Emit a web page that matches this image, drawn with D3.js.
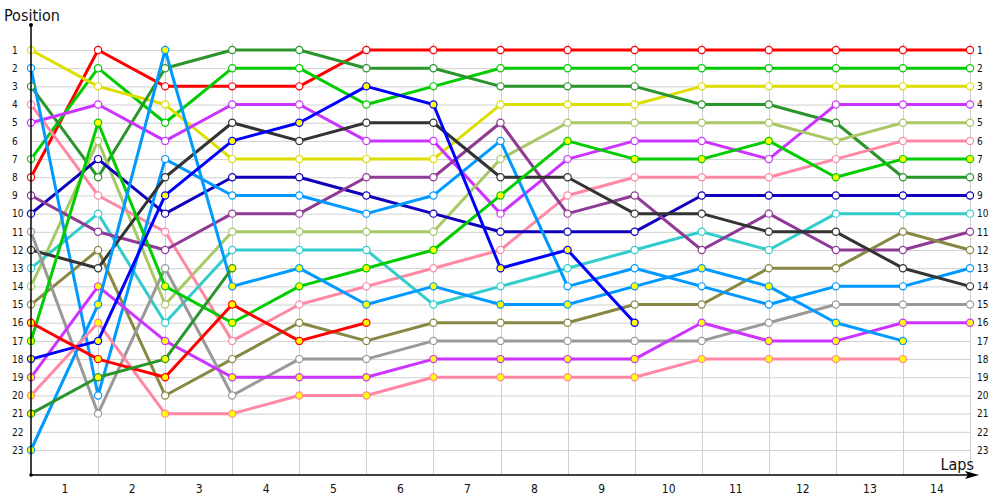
<!DOCTYPE html>
<html>
<head>
<meta charset="utf-8">
<script src="https://cdn.jsdelivr.net/npm/d3@7"></script>
<style>
  body { margin: 0; background: #fff; }
  svg text { font-family: Tahoma, "DejaVu Sans Condensed", "DejaVu Sans", sans-serif; fill: #111; }
</style>
</head>
<body>
<svg id="chart" width="1000" height="500"></svg>
<script>
// laps along x, tick labels sit between the lap lines
var laps = [0, 1, 2, 3, 4, 5, 6, 7, 8, 9, 10, 11, 12, 13, 14];
var lapLabels = ["1", "2", "3", "4", "5", "6", "7", "8", "9", "10", "11", "12", "13", "14"];
var positions = [1, 2, 3, 4, 5, 6, 7, 8, 9, 10, 11, 12, 13, 14, 15, 16, 17, 18, 19, 20, 21, 22, 23];

// position of each driver per lap (shorter array = retired)
var redA       = [8, 1, 3, 3, 3, 1, 1, 1, 1, 1, 1, 1, 1, 1, 1];
var greenA     = [7, 2, 5, 2, 2, 4, 3, 2, 2, 2, 2, 2, 2, 2, 2];
var yellowA    = [1, 3, 4, 7, 7, 7, 7, 4, 4, 4, 3, 3, 3, 3, 3];
var darkGreenA = [3, 8, 2, 1, 1, 2, 2, 3, 3, 3, 4, 4, 5, 8, 8];
var violetA    = [5, 4, 6, 4, 4, 6, 6, 10, 7, 6, 6, 7, 4, 4, 4];
var lightOlive = [14, 6, 15, 11, 11, 11, 11, 7, 5, 5, 5, 5, 6, 5, 5];
var pinkA      = [4, 9, 11, 17, 15, 14, 13, 12, 9, 8, 8, 8, 7, 6, 6];
var darkBlue   = [10, 7, 10, 8, 8, 9, 10, 11, 11, 11, 9, 9, 9, 9, 9];
var cyan       = [13, 10, 16, 12, 12, 12, 15, 14, 13, 12, 11, 12, 10, 10, 10];
var purple     = [9, 11, 12, 10, 10, 8, 8, 5, 10, 9, 12, 10, 12, 12, 11];
var olive      = [15, 12, 20, 18, 16, 17, 16, 16, 16, 15, 15, 13, 13, 11, 12];
var skyA       = [2, 20, 7, 9, 9, 10, 9, 6, 14, 13, 14, 15, 14, 14, 13];
var darkGray   = [12, 13, 8, 5, 6, 5, 5, 8, 8, 10, 10, 11, 11, 13, 14];
var gray       = [11, 21, 13, 20, 18, 18, 17, 17, 17, 17, 17, 16, 15, 15, 15];
var greenB     = [17, 5, 14, 16, 14, 13, 12, 9, 6, 7, 7, 6, 8, 7, 7];
var violetB    = [19, 14, 17, 19, 19, 19, 18, 18, 18, 18, 16, 17, 17, 16, 16];
var skyB       = [23, 15, 1, 14, 13, 15, 14, 15, 15, 14, 13, 14, 16, 17];
var pinkB      = [20, 16, 21, 21, 20, 20, 19, 19, 19, 19, 18, 18, 18, 18];
var blueB      = [18, 17, 9, 6, 5, 3, 4, 13, 12, 16];
var redB       = [16, 18, 19, 15, 17, 16];
var darkGreenB = [21, 19, 18, 13];

var series = [redA, greenA, yellowA, darkGreenA, violetA, lightOlive, pinkA, darkBlue, cyan, purple,
              olive, skyA, darkGray, gray, greenB, violetB, skyB, pinkB, blueB, redB, darkGreenB];
var colors = ["#ff0000", "#00cc00", "#dddd00", "#2a952a", "#cc33ff", "#a8c866", "#ff88a4", "#1100bb", "#33cccc", "#8e3a96",
              "#888844", "#0099ff", "#333333", "#999999", "#00cc00", "#cc33ff", "#0099ff", "#ff88a4", "#0000ff", "#ff0000", "#2a952a"];
var filled = [false, false, false, false, false, false, false, false, false, false,
              false, false, false, false, true, true, true, true, true, true, true];

var svg = d3.select("#chart");

var x = d3.scaleLinear().domain([0, 14]).range([31, 970]);
var y = d3.scaleLinear().domain([1, 23]).range([50, 450]);
var axisY = 475;

// grid
var grid = svg.append("g");
grid.selectAll(".h").data(positions).enter().append("line")
  .attr("x1", x(0)).attr("x2", x(14))
  .attr("y1", function(d) { return y(d) + 0.5; })
  .attr("y2", function(d) { return y(d) + 0.5; })
  .attr("stroke", "#d0d0d0");
grid.selectAll(".v").data(laps.slice(1)).enter().append("line")
  .attr("x1", function(d) { return Math.round(x(d)) + 0.5; })
  .attr("x2", function(d) { return Math.round(x(d)) + 0.5; })
  .attr("y1", 43).attr("y2", axisY)
  .attr("stroke", "#d0d0d0");

// left / right position labels
var left = svg.append("g").attr("transform", "translate(" + x(0) + ",0)")
  .call(d3.axisLeft(y).tickValues(positions).tickSize(0).tickFormat(d3.format("d")));
left.select(".domain").remove();
left.selectAll("text").attr("x", 12 - x(0)).attr("text-anchor", "start")
  .style("font-size", "10px").attr("fill", "#111");

var right = svg.append("g").attr("transform", "translate(" + x(14) + ",0)")
  .call(d3.axisRight(y).tickValues(positions).tickSize(0).tickFormat(d3.format("d")));
right.select(".domain").remove();
right.selectAll("text").attr("x", 7).style("font-size", "10px").attr("fill", "#111");

// lap labels between lap lines
var bottom = svg.append("g").attr("transform", "translate(0," + axisY + ")")
  .call(d3.axisBottom(x).tickValues(laps.slice(1).map(function(d) { return d - 0.5; }))
    .tickSize(0).tickFormat(function(d, i) { return lapLabels[i]; }));
bottom.select(".domain").remove();
bottom.selectAll("text").attr("y", 9).style("font-size", "12px").attr("fill", "#111");

// lines
var line = d3.line()
  .x(function(d, i) { return x(laps[i]); })
  .y(function(d) { return y(d); });

svg.append("g").selectAll("path").data(series).enter().append("path")
  .attr("d", line)
  .attr("fill", "none")
  .attr("stroke", function(d, i) { return colors[i]; })
  .attr("stroke-width", 3)
  .attr("stroke-linejoin", "round");

// markers
series.forEach(function(s, k) {
  svg.append("g").selectAll("circle").data(s).enter().append("circle")
    .attr("cx", function(d, i) { return x(laps[i]); })
    .attr("cy", function(d) { return y(d); })
    .attr("r", 3.6)
    .attr("fill", filled[k] ? "#ffff00" : "#ffffff")
    .attr("stroke", colors[k])
    .attr("stroke-width", 1.2);
});

// axes lines
svg.append("line").attr("x1", x(0)).attr("x2", x(0)).attr("y1", 25).attr("y2", axisY)
  .attr("stroke", "#000").attr("stroke-width", 1.5);
svg.append("circle").attr("cx", x(0)).attr("cy", 25).attr("r", 2).attr("fill", "#000");
svg.append("line").attr("x1", x(0)).attr("x2", 972).attr("y1", axisY).attr("y2", axisY)
  .attr("stroke", "#000").attr("stroke-width", 1.5);
svg.append("circle").attr("cx", x(0)).attr("cy", axisY).attr("r", 1.8).attr("fill", "#000");
svg.append("path").attr("d", "M965,471 L979,475 L965,479 L968,475 Z").attr("fill", "#000");

// titles
svg.append("text").attr("x", 4).attr("y", 21).style("font-size", "16px").text("Position");
svg.append("text").attr("x", 974).attr("y", 470).attr("text-anchor", "end").style("font-size", "16px").text("Laps");
</script>
</body>
</html>
